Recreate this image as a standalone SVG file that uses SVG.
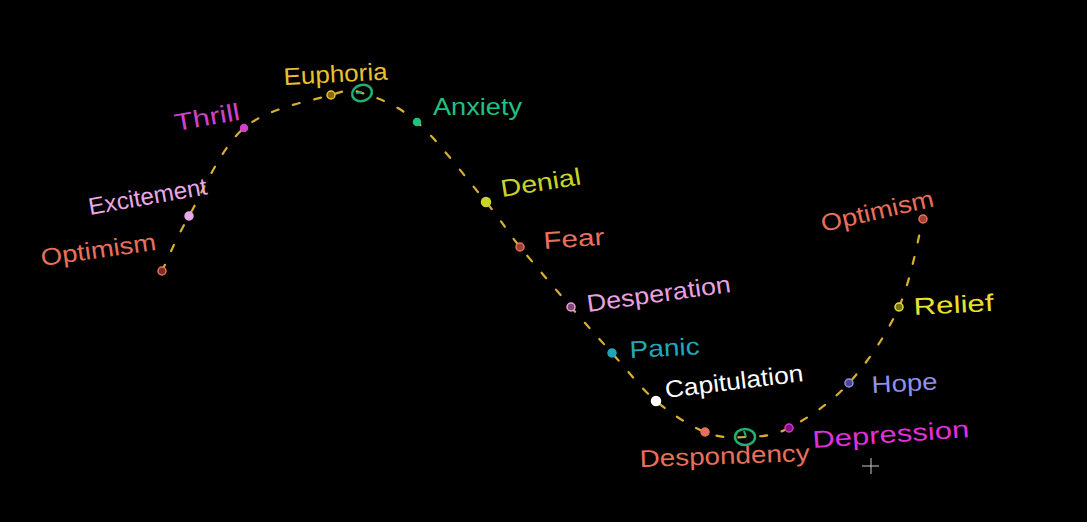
<svg xmlns="http://www.w3.org/2000/svg" width="1087" height="522" viewBox="0 0 1087 522">
<style>
text{font-family:"Liberation Sans","DejaVu Sans",sans-serif;font-size:24px;}
.dot{stroke-width:1.5;}
.ring{fill:none;stroke:#20b070;stroke-width:2.5;}
.curve{fill:none;stroke:#d8b030;stroke-width:2.2;stroke-dasharray:7 15;stroke-linecap:round;}
</style>
<rect width="1087" height="522" fill="#000"/>
<g id="connectors">
<path class="curve" d="M162,271 C166.5,261.8 175.3,239.8 189,216 C202.7,192.2 220.3,148.2 244,128 C267.7,107.8 311.3,100.8 331,95 C350.7,89.2 347.7,88.5 362,93 C376.3,97.5 396.3,103.8 417,122 C437.7,140.2 468.8,181.2 486,202 C503.2,222.8 505.8,229.5 520,247 C534.2,264.5 555.7,289.3 571,307 C586.3,324.7 597.8,337.3 612,353 C626.2,368.7 640.5,387.8 656,401 C671.5,414.2 690.2,426 705,432 C719.8,438 731,437.7 745,437 C759,436.3 771.7,437 789,428 C806.3,419 830.7,403.2 849,383 C867.3,362.8 886.7,334.3 899,307 C911.3,279.7 919,233.7 923,219"/>
</g>
<g id="optimism-left" fill="#e8705a">
<circle class="dot" cx="162" cy="271" r="4" stroke="#e8705a" fill="#7a3020"/>
<text x="42" y="266" transform="rotate(-8 42 266)" textLength="116" lengthAdjust="spacingAndGlyphs">Optimism</text>
</g>
<g id="excitement" fill="#e8a8e8">
<circle class="dot" cx="189" cy="216" r="4" stroke="#e8a8e8"/>
<text x="90" y="215" transform="rotate(-10 90 215)" textLength="120" lengthAdjust="spacingAndGlyphs">Excitement</text>
</g>
<g id="thrill" fill="#d040c8">
<circle class="dot" cx="244" cy="128" r="3.5" stroke="#d040c8"/>
<text x="176" y="131" transform="rotate(-10 176 131)" textLength="66" lengthAdjust="spacingAndGlyphs">Thrill</text>
</g>
<g id="euphoria" fill="#e8c030">
<circle class="dot" cx="331" cy="95" r="4" stroke="#e8c030" fill="#8a6a10"/>
<text x="284" y="85" transform="rotate(-3 284 85)" textLength="104" lengthAdjust="spacingAndGlyphs">Euphoria</text>
</g>
<g id="peak-marker">
<ellipse class="ring" cx="362" cy="93" rx="10" ry="8" transform="rotate(-15 362 93)"/>
<line x1="356" y1="93" x2="362" y2="92" stroke="#20b070" stroke-width="2"/>
</g>
<g id="anxiety" fill="#20c080">
<circle class="dot" cx="417" cy="122" r="3.5" stroke="#20c080"/>
<text x="433" y="115" textLength="89" lengthAdjust="spacingAndGlyphs">Anxiety</text>
</g>
<g id="denial" fill="#c8d428">
<circle class="dot" cx="486" cy="202" r="4.5" stroke="#c8d428"/>
<text x="502" y="197" transform="rotate(-9 502 197)" textLength="81" lengthAdjust="spacingAndGlyphs">Denial</text>
</g>
<g id="fear" fill="#e87060">
<circle class="dot" cx="520" cy="247" r="4" stroke="#e87060" fill="#a04030"/>
<text x="544" y="249" transform="rotate(-4 544 249)" textLength="61" lengthAdjust="spacingAndGlyphs">Fear</text>
</g>
<g id="desperation" fill="#e8a0e0">
<circle class="dot" cx="571" cy="307" r="4" stroke="#e8a0e0" fill="#804878"/>
<text x="588" y="312" transform="rotate(-8 588 312)" textLength="145" lengthAdjust="spacingAndGlyphs">Desperation</text>
</g>
<g id="panic" fill="#20a8b8">
<circle class="dot" cx="612" cy="353" r="4" stroke="#20a8b8"/>
<text x="630" y="358" transform="rotate(-3 630 358)" textLength="70" lengthAdjust="spacingAndGlyphs">Panic</text>
</g>
<g id="capitulation" fill="#ffffff">
<circle class="dot" cx="656" cy="401" r="4.5" stroke="#ffffff"/>
<text x="666" y="398" transform="rotate(-7 666 398)" textLength="139" lengthAdjust="spacingAndGlyphs">Capitulation</text>
</g>
<g id="despondency" fill="#e8705a">
<circle class="dot" cx="705" cy="432" r="4" stroke="#e8705a"/>
<text x="640" y="467" transform="rotate(-2 640 467)" textLength="170" lengthAdjust="spacingAndGlyphs">Despondency</text>
</g>
<g id="trough-marker">
<ellipse class="ring" cx="745" cy="437" rx="10" ry="8"/>
<line x1="744" y1="431" x2="746" y2="437" stroke="#20b070" stroke-width="2"/>
</g>
<g id="depression" fill="#e030d8">
<circle class="dot" cx="789" cy="428" r="4" stroke="#e030d8" fill="#801878"/>
<text x="813" y="448" transform="rotate(-4 813 448)" textLength="157" lengthAdjust="spacingAndGlyphs">Depression</text>
</g>
<g id="hope" fill="#9090e8">
<circle class="dot" cx="849" cy="383" r="4" stroke="#9090e8" fill="#484890"/>
<text x="872" y="393" transform="rotate(-3 872 393)" textLength="66" lengthAdjust="spacingAndGlyphs">Hope</text>
</g>
<g id="relief" fill="#e8e030">
<circle class="dot" cx="899" cy="307" r="4" stroke="#e8e030" fill="#7a7410"/>
<text x="914" y="315" transform="rotate(-3 914 315)" textLength="80" lengthAdjust="spacingAndGlyphs">Relief</text>
</g>
<g id="optimism-right" fill="#e8705a">
<circle class="dot" cx="923" cy="219" r="4" stroke="#e8705a" fill="#a04030"/>
<text x="823" y="232" transform="rotate(-13 823 232)" textLength="115" lengthAdjust="spacingAndGlyphs">Optimism</text>
</g>
<g id="cursor" stroke="#ffffff" stroke-width="1" opacity="0.8">
<line x1="862" y1="466" x2="879" y2="466"/>
<line x1="871" y1="458" x2="871" y2="474"/>
</g>
</svg>
